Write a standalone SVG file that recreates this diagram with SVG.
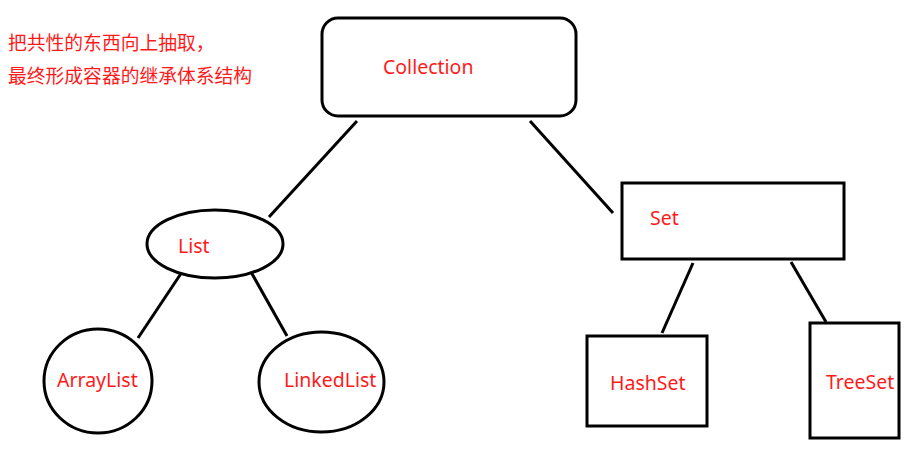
<svg xmlns="http://www.w3.org/2000/svg" width="907" height="452" viewBox="0 0 907 452">
<style>
.s{fill:#fff;stroke:#000;stroke-width:3}
.c line{stroke:#000;stroke-width:3;stroke-linecap:butt}
.t{font-family:"Noto Sans","Liberation Sans","Noto Sans CJK SC",sans-serif;font-size:19.5px;fill:#ff1a1a}
.z{font-family:"Noto Sans CJK SC","Noto Sans",sans-serif;font-size:18.8px;fill:#ff1a1a}
</style>
<rect width="907" height="452" fill="#fff"/>
<g id="note">
<text class="z" x="8" y="50">把共性的东西向上抽取，</text>
<text class="z" x="8" y="83">最终形成容器的继承体系结构</text>
</g>
<g class="c" id="connectors">
<line x1="357" y1="121" x2="269" y2="217"/>
<line x1="530" y1="121" x2="613" y2="213"/>
<line x1="182" y1="272" x2="138" y2="338"/>
<line x1="251" y1="272" x2="287" y2="336"/>
<line x1="693" y1="263" x2="662" y2="333"/>
<line x1="791" y1="262" x2="826" y2="322"/>
</g>
<g id="collection">
<rect class="s" x="322" y="18" width="254" height="98" rx="16"/>
<text class="t" x="383" y="74">Collection</text>
</g>
<g id="list">
<ellipse class="s" cx="215" cy="244" rx="68" ry="34"/>
<text class="t" x="178" y="253">List</text>
</g>
<g id="set">
<rect class="s" x="622" y="183" width="222" height="76"/>
<text class="t" x="650" y="225">Set</text>
</g>
<g id="arraylist">
<ellipse class="s" cx="98" cy="381" rx="54" ry="52"/>
<text class="t" x="57" y="387">ArrayList</text>
</g>
<g id="linkedlist">
<ellipse class="s" cx="321.5" cy="382" rx="62.5" ry="50"/>
<text class="t" x="284" y="387">LinkedList</text>
</g>
<g id="hashset">
<rect class="s" x="587" y="336" width="120" height="90"/>
<text class="t" x="610" y="390">HashSet</text>
</g>
<g id="treeset">
<rect class="s" x="810" y="323" width="89" height="115"/>
<text class="t" x="826" y="389">TreeSet</text>
</g>
</svg>
